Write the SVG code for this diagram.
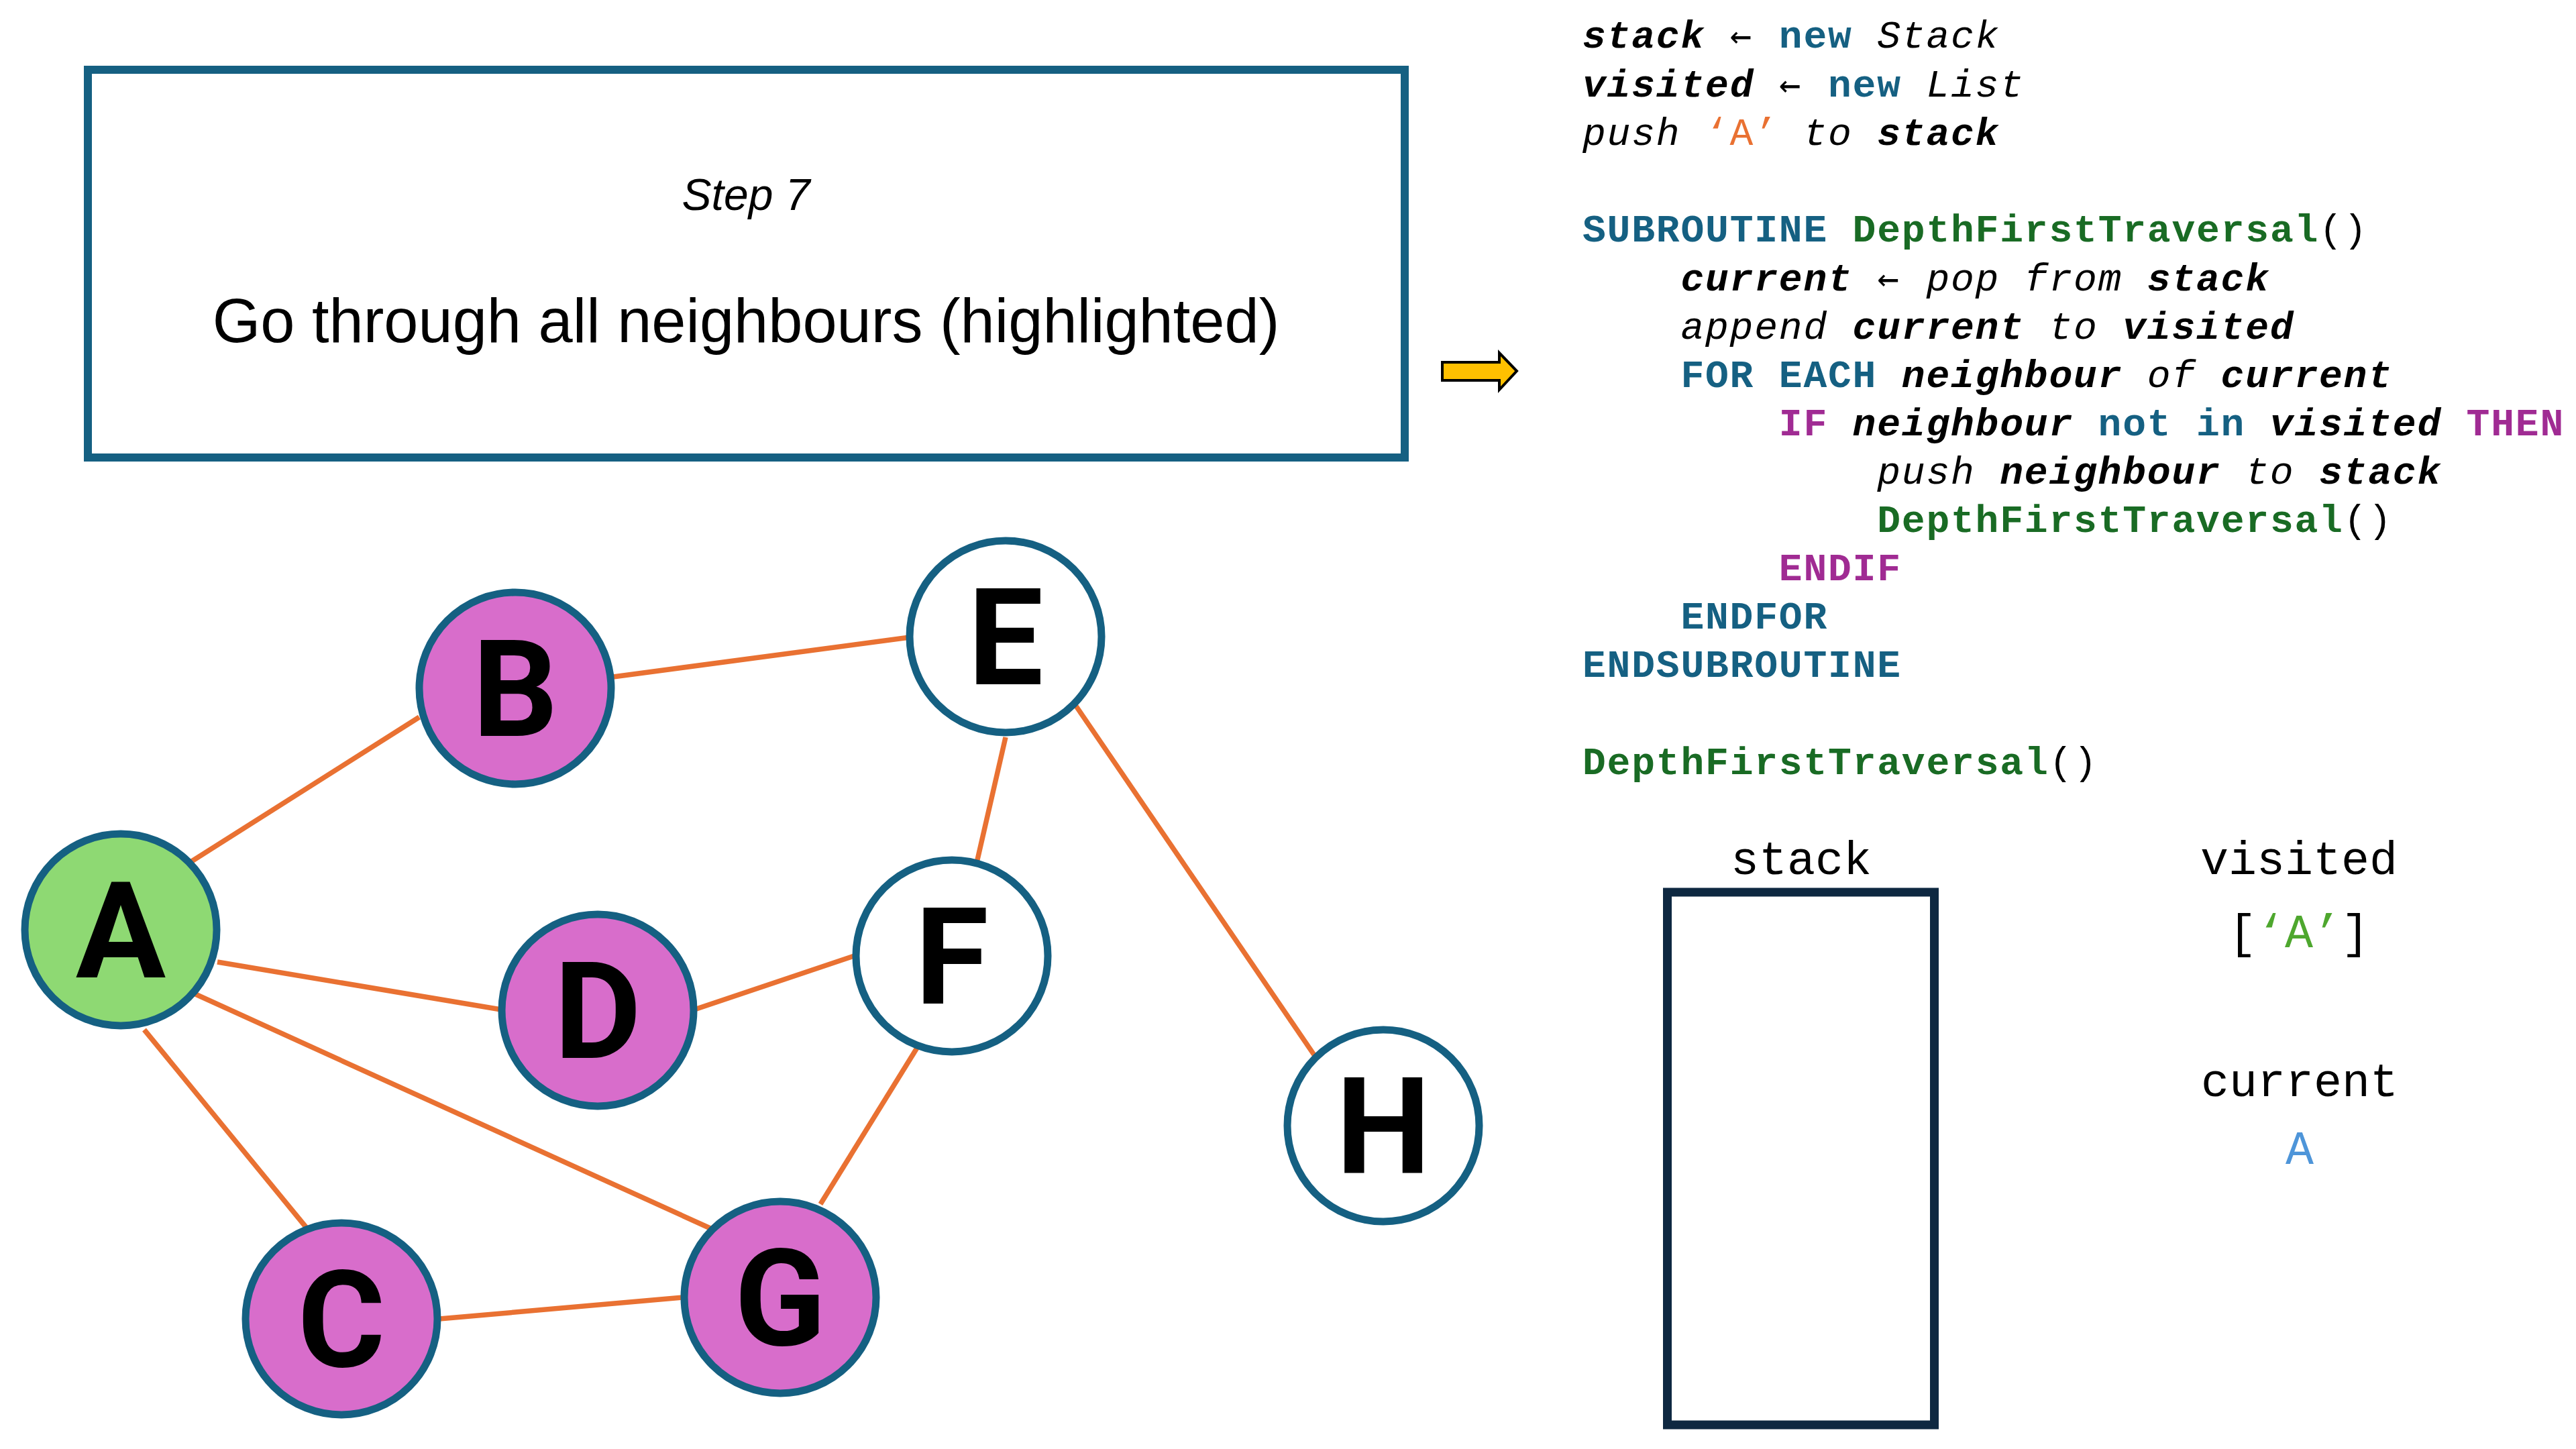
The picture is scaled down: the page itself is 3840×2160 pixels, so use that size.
<svg xmlns="http://www.w3.org/2000/svg" width="3840" height="2160" viewBox="0 0 3840 2160">
  <style>
    .title { font-family: "Liberation Sans", Arial, sans-serif; fill: #000; text-anchor: middle; }
    .edge { stroke: #E97132; stroke-width: 7.5; stroke-linecap: butt; fill: none; }
    .node { stroke: #156082; stroke-width: 11; }
    .pink { fill: #D86DCB; }
    .green { fill: #8ED973; }
    .white { fill: #FFFFFF; }
    .nlabel { font-family: Roboto, "Liberation Sans", Arial, sans-serif; font-weight: 700; font-size: 200px; fill: #000; text-anchor: middle; }
    .code { font-family: "Liberation Mono", "Courier New", monospace; font-size: 58px; letter-spacing: 1.8px; fill: #000; }
    .bi { font-weight: 700; font-style: italic; }
    .it { font-style: italic; }
    .kw { font-weight: 700; fill: #156082; }
    .fn { font-weight: 700; fill: #196B24; }
    .cond { font-weight: 700; fill: #A02B93; }
    .str { fill: #E97132; }
    .arw { font-family: "DejaVu Sans Mono", "Liberation Mono", monospace; font-size: 54px; }
    .state { font-family: "Liberation Mono", "Courier New", monospace; font-size: 70px; fill: #000; text-anchor: middle; }
    .seen { fill: #4EA72E; }
    .cur { fill: #4E95D9; }
  </style>

  <rect x="0" y="0" width="3840" height="2160" fill="#FFFFFF"/>

  <!-- step caption -->
  <g id="caption">
    <rect x="131" y="104" width="1963" height="578" fill="#FFFFFF" stroke="#156082" stroke-width="12"/>
    <text class="title" x="1112" y="313" font-size="66" font-style="italic">Step 7</text>
    <text class="title" x="1112" y="510" font-size="92">Go through all neighbours (highlighted)</text>
  </g>

  <!-- current-line pointer -->
  <g id="pointer">
    <path d="M2150,540 L2235,540 L2235,526 L2261,553 L2235,581 L2235,567 L2150,567 Z" fill="#FFC000" stroke="#000" stroke-width="4" stroke-linejoin="miter"/>
  </g>

  <!-- pseudocode: every token sits on a 36.6px character grid starting at x=2359 -->
  <g id="pseudocode" class="code">
    <text y="71"><tspan class="bi" x="2359">stack</tspan><tspan class="arw" x="2578.6">←</tspan><tspan class="kw" x="2651.8">new</tspan><tspan class="it" x="2798.2">Stack</tspan></text>
    <text y="144"><tspan class="bi" x="2359">visited</tspan><tspan class="arw" x="2651.8">←</tspan><tspan class="kw" x="2725">new</tspan><tspan class="it" x="2871.4">List</tspan></text>
    <text y="216"><tspan class="it" x="2359">push</tspan><tspan class="str" x="2542">‘A’</tspan><tspan class="it" x="2688.4">to</tspan><tspan class="bi" x="2798.2">stack</tspan></text>
    <text y="360"><tspan class="kw" x="2359">SUBROUTINE</tspan><tspan class="fn" x="2761.6">DepthFirstTraversal</tspan><tspan x="3457">()</tspan></text>
    <text y="433"><tspan class="bi" x="2505.4">current</tspan><tspan class="arw" x="2798.2">←</tspan><tspan class="it" x="2871.4">pop</tspan><tspan class="it" x="3017.8">from</tspan><tspan class="bi" x="3200.8">stack</tspan></text>
    <text y="505"><tspan class="it" x="2505.4">append</tspan><tspan class="bi" x="2761.6">current</tspan><tspan class="it" x="3054.4">to</tspan><tspan class="bi" x="3164.2">visited</tspan></text>
    <text y="577"><tspan class="kw" x="2505.4">FOR</tspan><tspan class="kw" x="2651.8">EACH</tspan><tspan class="bi" x="2834.8">neighbour</tspan><tspan class="it" x="3200.8">of</tspan><tspan class="bi" x="3310.6">current</tspan></text>
    <text y="649"><tspan class="cond" x="2651.8">IF</tspan><tspan class="bi" x="2761.6">neighbour</tspan><tspan class="kw" x="3127.6">not</tspan><tspan class="kw" x="3274">in</tspan><tspan class="bi" x="3383.8">visited</tspan><tspan class="cond" x="3676.6">THEN</tspan></text>
    <text y="721"><tspan class="it" x="2798.2">push</tspan><tspan class="bi" x="2981.2">neighbour</tspan><tspan class="it" x="3347.2">to</tspan><tspan class="bi" x="3457">stack</tspan></text>
    <text y="793"><tspan class="fn" x="2798.2">DepthFirstTraversal</tspan><tspan x="3493.6">()</tspan></text>
    <text y="865"><tspan class="cond" x="2651.8">ENDIF</tspan></text>
    <text y="937"><tspan class="kw" x="2505.4">ENDFOR</tspan></text>
    <text y="1009"><tspan class="kw" x="2359">ENDSUBROUTINE</tspan></text>
    <text y="1154"><tspan class="fn" x="2359">DepthFirstTraversal</tspan><tspan x="3054.4">()</tspan></text>
  </g>

  <!-- traversal state -->
  <g id="stack">
    <text class="state" x="2685" y="1303">stack</text>
    <rect x="2485.5" y="1330" width="398" height="794" fill="none" stroke="#0E2841" stroke-width="13"/>
  </g>
  <g id="visited">
    <text class="state" x="3427" y="1303">visited</text>
    <text class="state" x="3427" y="1412">[<tspan class="seen">‘A’</tspan>]</text>
  </g>
  <g id="current">
    <text class="state" x="3428" y="1634">current</text>
    <text class="state cur" x="3428" y="1735">A</text>
  </g>

  <!-- graph edges -->
  <g id="edges">
    <line class="edge" x1="284" y1="1285" x2="625" y2="1069"/>
    <line class="edge" x1="914" y1="1009" x2="1356" y2="950"/>
    <line class="edge" x1="1499" y1="1099" x2="1456" y2="1286"/>
    <line class="edge" x1="1603" y1="1051" x2="1962" y2="1577"/>
    <line class="edge" x1="324" y1="1434" x2="747" y2="1505"/>
    <line class="edge" x1="1035" y1="1505" x2="1279" y2="1423"/>
    <line class="edge" x1="287" y1="1480" x2="1061" y2="1832"/>
    <line class="edge" x1="215" y1="1535" x2="460" y2="1834"/>
    <line class="edge" x1="655" y1="1966" x2="1019" y2="1934"/>
    <line class="edge" x1="1223" y1="1795" x2="1372" y2="1554"/>
  </g>

  <!-- graph nodes -->
  <g id="node-A"><circle class="node green" cx="180" cy="1386" r="143"/><text class="nlabel" x="180" y="1457">A</text></g>
  <g id="node-B"><circle class="node pink" cx="768" cy="1026" r="143"/><text class="nlabel" x="768" y="1097">B</text></g>
  <g id="node-E"><circle class="node white" cx="1499" cy="949" r="143"/><text class="nlabel" x="1499" y="1020">E</text></g>
  <g id="node-F"><circle class="node white" cx="1419" cy="1425" r="143"/><text class="nlabel" x="1419" y="1496">F</text></g>
  <g id="node-D"><circle class="node pink" cx="891" cy="1506" r="143"/><text class="nlabel" x="891" y="1577">D</text></g>
  <g id="node-C"><circle class="node pink" cx="509" cy="1966" r="143"/><text class="nlabel" x="509" y="2037">C</text></g>
  <g id="node-G"><circle class="node pink" cx="1163" cy="1934" r="143"/><text class="nlabel" x="1163" y="2005">G</text></g>
  <g id="node-H"><circle class="node white" cx="2062" cy="1678" r="143"/><text class="nlabel" x="2062" y="1749">H</text></g>
</svg>
